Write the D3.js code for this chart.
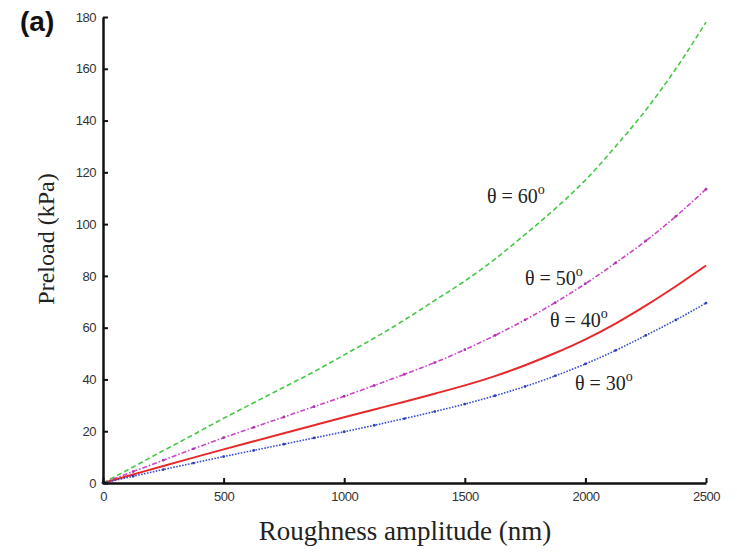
<!DOCTYPE html>
<html>
<head>
<meta charset="utf-8">
<script src="https://cdn.jsdelivr.net/npm/d3@7"></script>
<style>
  html, body { margin: 0; padding: 0; background: #fff; }
  svg { display: block; }
</style>
</head>
<body>
<svg id="chart" width="737" height="552"></svg>
<script>
// Roughness amplitude (nm), sampled every 125 nm
const roughness = d3.range(0, 2501, 125);

// Preload (kPa) for each contact angle
const preload60 = [0, 6.2, 12.5, 18.7, 25, 31, 37, 43, 49.5, 56, 63, 70.5, 78, 86.5, 96, 106, 117, 130, 144, 160, 178];
const preload50 = [0, 4.4, 8.8, 13.2, 17.5, 21.5, 25.5, 29.5, 33.5, 37.7, 42, 46.5, 51.5, 57, 63, 69.7, 77, 85, 93.5, 103, 113.5];
const preload40 = [0, 3.3, 6.6, 9.8, 13, 16.1, 19.2, 22.3, 25.4, 28.4, 31.4, 34.5, 37.7, 41.3, 45.5, 50.2, 55.5, 61.6, 68.5, 76, 84];
const preload30 = [0, 2.6, 5.2, 7.7, 10.2, 12.6, 15, 17.4, 19.8, 22.3, 24.9, 27.6, 30.5, 33.7, 37.3, 41.4, 46, 51.2, 57, 63, 69.5];

const angleLabels = ["60", "50", "40", "30"];
const xTicks = [0, 500, 1000, 1500, 2000, 2500];
const yTicks = [0, 20, 40, 60, 80, 100, 120, 140, 160, 180];

const svg = d3.select("#chart");
const margin = { left: 103, right: 31, top: 17, bottom: 69 };
const W = 737, H = 552;

const x = d3.scaleLinear().domain([0, 2500]).range([margin.left, W - margin.right]);
const y = d3.scaleLinear().domain([0, 180]).range([H - margin.bottom, margin.top]);

const series = [
  { vals: preload60, color: "#44c844", dash: "5,3", dots: false },
  { vals: preload50, color: "#cc44cc", dash: "5,2,1.5,2", dots: true },
  { vals: preload40, color: "#e8282a", dash: null, dots: false },
  { vals: preload30, color: "#3a4fd0", dash: "1.6,1.4", dots: true }
];

const line = d3.line()
  .x((d, i) => x(roughness[i]))
  .y(d => y(d))
  .curve(d3.curveMonotoneX);

const plot = svg.append("g");
series.forEach(s => {
  plot.append("path")
    .attr("d", line(s.vals))
    .attr("fill", "none")
    .attr("stroke", s.color)
    .attr("stroke-width", s.dash ? 1.6 : 2)
    .attr("stroke-dasharray", s.dash);
  if (s.dots) {
    plot.selectAll(null)
      .data(s.vals)
      .enter().append("circle")
      .attr("cx", (d, i) => x(roughness[i]))
      .attr("cy", d => y(d))
      .attr("r", 1.4)
      .attr("fill", d3.color(s.color).darker(0.6));
  }
});

// Axes: ticks point into the plot
const xAxis = d3.axisBottom(x).tickValues(xTicks).tickFormat(d3.format("d"))
  .tickSizeInner(-5).tickSizeOuter(0).tickPadding(9);
const yAxis = d3.axisLeft(y).tickValues(yTicks).tickFormat(d3.format("d"))
  .tickSizeInner(-5).tickSizeOuter(0).tickPadding(7);

const gx = svg.append("g").attr("transform", `translate(0,${y(0)})`).call(xAxis);
const gy = svg.append("g").attr("transform", `translate(${x(0)},0)`).call(yAxis);

[gx, gy].forEach(g => {
  g.select(".domain").attr("stroke", "#111").attr("stroke-width", 2.5);
  g.selectAll(".tick line").attr("stroke", "#111").attr("stroke-width", 2);
  g.selectAll(".tick text")
    .attr("fill", "#333")
    .style("font-family", "Arial, 'Liberation Sans', sans-serif")
    .style("font-size", "13px")
    .style("letter-spacing", "-0.5px");
});

// Angle labels next to their curves
const labelPos = [
  { x: 487, y: 203 },
  { x: 525, y: 285 },
  { x: 550, y: 327 },
  { x: 575, y: 390 }
];
angleLabels.forEach((a, i) => {
  const t = svg.append("text")
    .attr("x", labelPos[i].x)
    .attr("y", labelPos[i].y)
    .attr("fill", "#222")
    .style("font-family", "'Liberation Serif', 'Times New Roman', serif")
    .style("font-size", "20px");
  t.append("tspan").text("θ = " + a);
  t.append("tspan").attr("dy", -9).style("font-size", "14px").text("o");
});

// Axis titles
svg.append("text")
  .attr("x", 405)
  .attr("y", 540)
  .attr("text-anchor", "middle")
  .attr("fill", "#222")
  .style("font-family", "'Liberation Serif', 'Times New Roman', serif")
  .style("font-size", "27px")
  .text("Roughness amplitude (nm)");

svg.append("text")
  .attr("transform", "translate(54,239) rotate(-90)")
  .attr("text-anchor", "middle")
  .attr("fill", "#222")
  .style("font-family", "'Liberation Serif', 'Times New Roman', serif")
  .style("font-size", "24px")
  .text("Preload (kPa)");

// Panel tag
svg.append("text")
  .attr("x", 20)
  .attr("y", 31)
  .attr("fill", "#111")
  .style("font-family", "Arial, 'Liberation Sans', sans-serif")
  .style("font-size", "28px")
  .style("font-weight", "bold")
  .text("(a)");
</script>
</body>
</html>
